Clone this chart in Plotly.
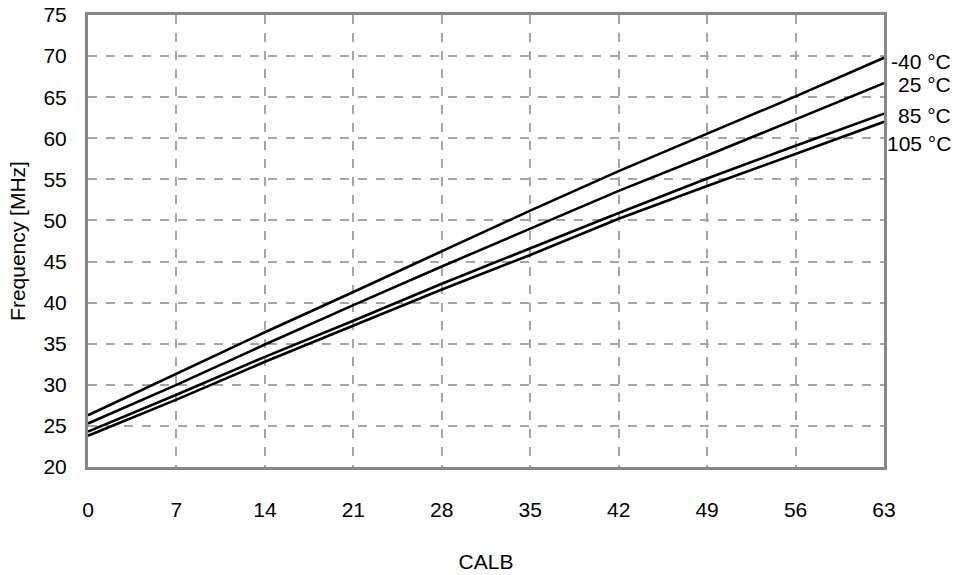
import plotly.graph_objects as go

calb = [0, 7, 14, 21, 28, 35, 42, 49, 56, 63]
f_m40 = [26.3, 31.3, 36.4, 41.3, 46.3, 51.2, 56.0, 60.5, 65.1, 69.8]
f_25 = [25.3, 30.0, 34.9, 39.7, 44.4, 49.0, 53.6, 57.9, 62.3, 66.7]
f_85 = [24.3, 28.8, 33.4, 37.8, 42.3, 46.6, 50.9, 55.1, 59.1, 63.0]
f_105 = [23.8, 28.2, 32.8, 37.2, 41.6, 45.8, 50.2, 54.2, 58.1, 62.0]
series_names = ["-40 °C", "25 °C", "85 °C", "105 °C"]
x_ticks = [0, 7, 14, 21, 28, 35, 42, 49, 56, 63]
y_ticks = [20, 25, 30, 35, 40, 45, 50, 55, 60, 65, 70, 75]

FONT = "Liberation Sans Narrow, Arial Narrow, Liberation Sans, Arial, sans-serif"
FS = 21

fig = go.Figure()
for name, ys in zip(series_names, [f_m40, f_25, f_85, f_105]):
    fig.add_trace(go.Scatter(x=calb, y=ys, mode="lines", name=name,
                             line=dict(color="black", width=2.6),
                             showlegend=False, cliponaxis=False))

label_y = [69.3, 66.5, 62.8, 59.4]
for name, ly in zip(series_names, label_y):
    fig.add_annotation(x=1.087, xref="paper", y=ly, yref="y", text=name,
                       showarrow=False, xanchor="right", yanchor="middle",
                       font=dict(family=FONT, size=FS, color="black"))

fig.update_layout(
    width=962, height=575,
    margin=dict(l=88, r=78, t=15, b=108, autoexpand=False),
    paper_bgcolor="white", plot_bgcolor="white",
    font=dict(family=FONT, size=FS, color="black"),
    xaxis=dict(range=[0, 63], tickvals=x_ticks, ticks="", ticklabelstandoff=22,
               showgrid=True, gridcolor="#A6A6A6", gridwidth=2, griddash="dash",
               showline=True, linecolor="#868686", linewidth=3, mirror=True,
               zeroline=False, automargin=False,
               title=dict(text="CALB", font=dict(family=FONT, size=FS), standoff=35)),
    yaxis=dict(range=[20, 75], tickvals=y_ticks, ticks="", ticklabelstandoff=14,
               showgrid=True, gridcolor="#A6A6A6", gridwidth=2, griddash="dash",
               showline=True, linecolor="#868686", linewidth=3, mirror=True,
               zeroline=False, automargin=False,
               title=dict(text="Frequency [MHz]", font=dict(family=FONT, size=FS), standoff=13)),
)

fig.write_html("out.html",
               config={"displayModeBar": False},
               post_script="document.body.style.margin='0';document.body.style.overflow='hidden';")
